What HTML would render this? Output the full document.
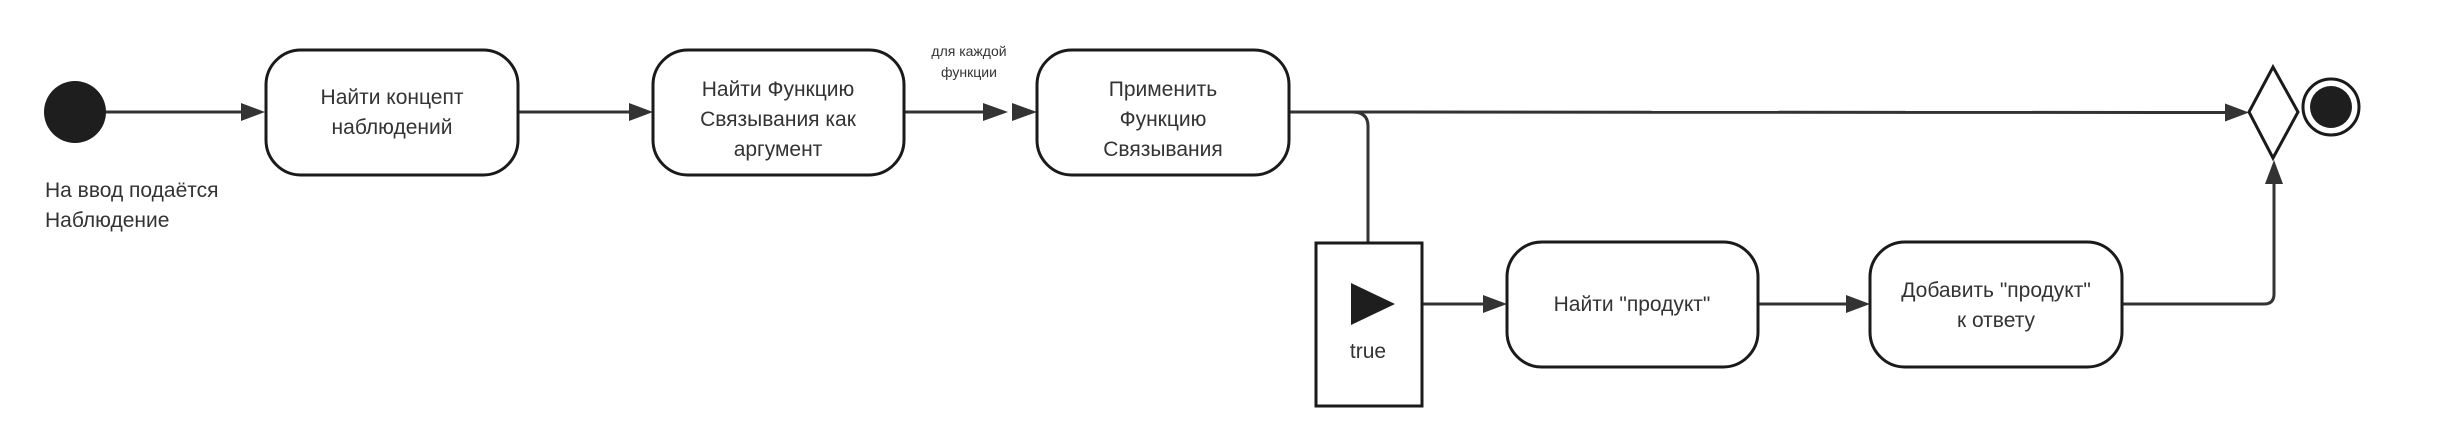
<!DOCTYPE html>
<html><head><meta charset="utf-8"><style>
html,body{margin:0;padding:0;background:#fff;}
svg{display:block;}
text{font-family:"Liberation Sans","DejaVu Sans",sans-serif;fill:#333;}
</style></head><body>
<svg width="2441" height="444" viewBox="0 0 2441 444" xmlns="http://www.w3.org/2000/svg">
<defs>
<marker id="ah" markerWidth="10" markerHeight="10" refX="10" refY="5" orient="auto" markerUnits="userSpaceOnUse" viewBox="0 0 10 10">
</marker>
</defs>
<g stroke="#333" stroke-width="3" fill="none">
  <!-- connectors -->
  <line x1="106" y1="112" x2="245" y2="112"/>
  <line x1="518" y1="112" x2="633" y2="112"/>
  <line x1="904" y1="112" x2="985" y2="112"/>
  <line x1="1289" y1="112" x2="2228" y2="112.5"/>
  <path d="M1352 112 Q1368 112 1368 126 L1368 243"/>
  <line x1="1397" y1="304" x2="1487" y2="304"/>
  <line x1="1758" y1="304" x2="1850" y2="304"/>
  <path d="M2122 304 L2264 304 Q2274 304 2274 294 L2274 180"/>
</g>
<g fill="#333">
  <polygon points="265,112 241,103 241,121"/>
  <polygon points="653,112 629,103 629,121"/>
  <polygon points="1008,112 983,103 983,121"/>
  <polygon points="1037,112 1012,103 1012,121"/>
  <polygon points="2249,112.5 2225,103.5 2225,121.5"/>
  <polygon points="1507,304 1483,295 1483,313"/>
  <polygon points="1870,304 1846,295 1846,313"/>
  <polygon points="2274,160 2265,184 2283,184"/>
</g>
<!-- start node -->
<circle cx="75" cy="112" r="31" fill="#1e1e1e"/>
<text x="45" y="197" font-size="21">На ввод подаётся</text>
<text x="45" y="227" font-size="21">Наблюдение</text>
<!-- boxes -->
<g fill="#fff" stroke="#1a1a1a" stroke-width="3">
  <rect x="266" y="50" width="252" height="125" rx="35"/>
  <rect x="653" y="50" width="251" height="125" rx="35"/>
  <rect x="1037" y="50" width="252" height="125" rx="35"/>
  <rect x="1507" y="242" width="251" height="125" rx="35"/>
  <rect x="1870" y="242" width="252" height="125" rx="35"/>
  <rect x="1316" y="243" width="106" height="163"/>
  <polygon points="2273,67 2298,112 2273,158 2249,112"/>
  <circle cx="2331" cy="107" r="28"/>
</g>
<circle cx="2331" cy="107" r="21" fill="#1e1e1e"/>
<polygon points="1351,283 1395,304 1351,325" fill="#1e1e1e"/>
<g font-size="21" text-anchor="middle">
  <text x="392" y="104">Найти концепт</text>
  <text x="392" y="134">наблюдений</text>
  <text x="778" y="96">Найти Функцию</text>
  <text x="778" y="126">Связывания как</text>
  <text x="778" y="156">аргумент</text>
  <text x="1163" y="96">Применить</text>
  <text x="1163" y="126">Функцию</text>
  <text x="1163" y="156">Связывания</text>
  <text x="1632" y="311">Найти "продукт"</text>
  <text x="1996" y="297">Добавить "продукт"</text>
  <text x="1996" y="327">к ответу</text>
  <text x="1368" y="358">true</text>
</g>
<g font-size="14" text-anchor="middle">
  <text x="969" y="56">для каждой</text>
  <text x="969" y="77">функции</text>
</g>
</svg>
</body></html>
